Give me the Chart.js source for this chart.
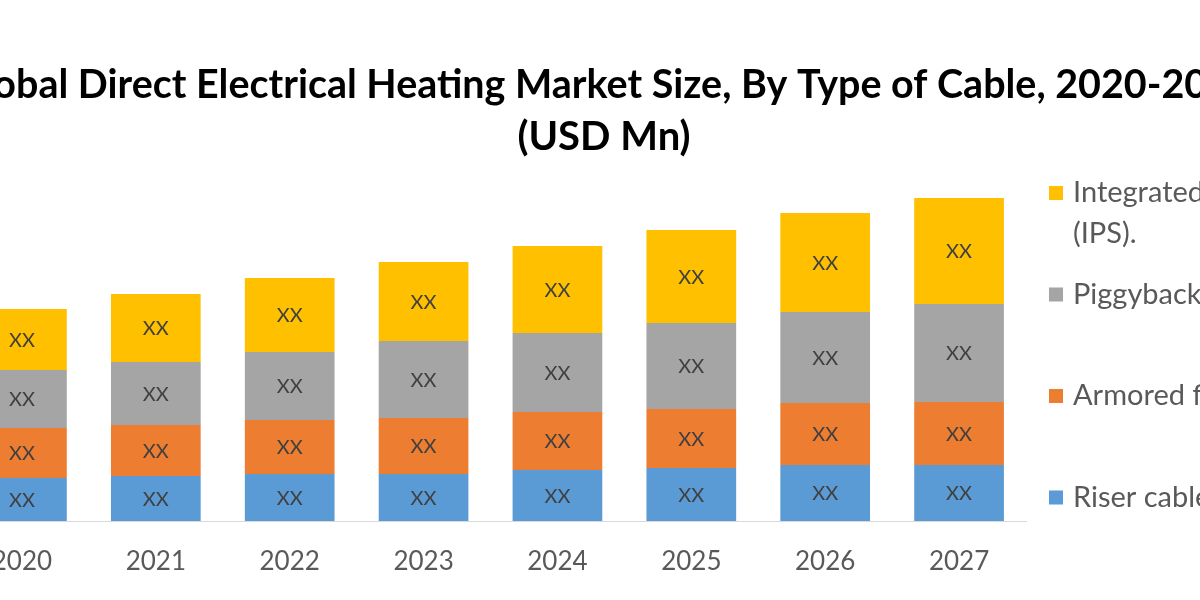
<!DOCTYPE html>
<html>
<head>
<meta charset="utf-8">
<script src="https://cdn.jsdelivr.net/npm/chart.js@4.4.1/dist/chart.umd.min.js"></script>
<style>
  html, body { margin: 0; padding: 0; background: #fff; overflow: hidden; width: 1200px; height: 600px; }
  #wrap { position: absolute; left: -45px; top: 0; width: 1298px; height: 600px; }
</style>
</head>
<body>
<div id="wrap"><canvas id="grafico" width="1298" height="600"></canvas></div>
<script>
const anos = ['2020', '2021', '2022', '2023', '2024', '2025', '2026', '2027'];

// values (the labels only say XX)
const riser = [43, 45, 47, 47, 51, 53, 56, 56];
const armored = [50, 51, 54, 56, 58, 59, 62, 63];
const piggyback = [58, 63, 68, 77, 79, 86, 91, 98];
const integrated = [61, 68, 74, 79, 87, 93, 99, 106];

const nomes = [
  ['Riser cables'],
  ['Armored fire resistant cables'],
  ['Piggyback heating cables'],
  ['Integrated Power Systems', '(IPS).']
];
const cores = ['#5B9BD5', '#ED7D31', '#A5A5A5', '#FFC000'];

// "XX" in the middle of every segment
const rotulos = {
  id: 'rotulos',
  afterDatasetsDraw(chart) {
    const ctx = chart.ctx;
    ctx.save();
    ctx.font = '20px Lato';
    ctx.fillStyle = '#404040';
    ctx.textAlign = 'center';
    ctx.textBaseline = 'middle';
    chart.data.datasets.forEach((ds, i) => {
      chart.getDatasetMeta(i).data.forEach((bar) => {
        const p = bar.getProps(['x', 'y', 'base'], true);
        ctx.fillText('XX', p.x, (p.y + p.base) / 2 + 1);
      });
    });
    ctx.restore();
  }
};

// legend on the right, top item first
const legenda = {
  id: 'legenda',
  afterDraw(chart) {
    const ctx = chart.ctx;
    const area = chart.chartArea;
    ctx.save();
    ctx.font = '29px Lato';
    ctx.textBaseline = 'middle';
    const itens = chart.data.datasets.slice().reverse();
    itens.forEach((ds, i) => {
      const y = area.top + 22 + i * 101.5;
      ctx.fillStyle = ds.backgroundColor;
      ctx.fillRect(area.right + 23, y - 7, 14, 14);
      ctx.fillStyle = '#595959';
      ds.linhas.forEach((linha, j) => {
        ctx.fillText(linha, area.right + 47, y + j * 41);
      });
    });
    ctx.restore();
  }
};

const series = [riser, armored, piggyback, integrated];

const grafico = new Chart(document.getElementById('grafico'), {
  type: 'bar',
  data: {
    labels: anos,
    datasets: series.map((valores, i) => ({
      label: nomes[i].join(' '),
      linhas: nomes[i],
      data: valores,
      backgroundColor: cores[i],
      borderWidth: 0,
      barPercentage: 0.67,
      categoryPercentage: 1
    }))
  },
  options: {
    responsive: false,
    animation: false,
    layout: { padding: 0 },
    plugins: {
      legend: { display: false },
      tooltip: { enabled: false },
      title: {
        display: true,
        text: ['Global Direct Electrical Heating Market Size, By Type of Cable, 2020-2027', '(USD Mn)'],
        color: '#000',
        font: { family: 'Lato', size: 40, weight: 'bold', lineHeight: 1.3 },
        padding: { top: 59, bottom: 8 }
      }
    },
    scales: {
      x: {
        stacked: true,
        grid: { display: false },
        border: { display: true, color: '#D9D9D9', width: 1 },
        ticks: { color: '#595959', font: { family: 'Lato', size: 26 }, padding: 17 },
        afterFit(scale) { scale.height = 79; }
      },
      y: {
        stacked: true,
        position: 'right',
        min: 0,
        max: 350,
        grid: { display: false },
        border: { display: false },
        ticks: { display: false },
        // room for the legend
        afterFit(scale) { scale.width = 227; }
      }
    }
  },
  plugins: [rotulos, legenda]
});
</script>
</body>
</html>
